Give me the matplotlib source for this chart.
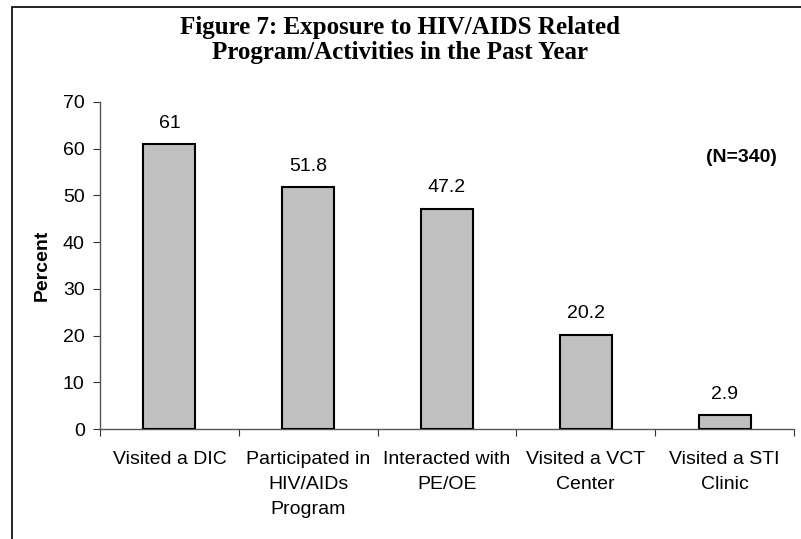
import matplotlib
matplotlib.use("Agg")
import matplotlib.pyplot as plt
from matplotlib.patches import Rectangle

categories = ["Visited a DIC", "Participated in\nHIV/AIDs\nProgram", "Interacted with\nPE/OE",
              "Visited a VCT\nCenter", "Visited a STI\nClinic"]
values = [61, 51.8, 47.2, 20.2, 2.9]
value_labels = ["61", "51.8", "47.2", "20.2", "2.9"]
yticks = [0, 10, 20, 30, 40, 50, 60, 70]

W, H = 801, 539
fig = plt.figure(figsize=(W/100, H/100), dpi=100)
fig.patches.append(Rectangle((12/W, -0.1), 1.2, (H-7)/H + 0.1, transform=fig.transFigure,
                             fill=False, edgecolor="black", linewidth=1.2))

FS = 14
ax = fig.add_axes([100/W, 1-429/H, (794-100)/W, (429-102)/H])
x = list(range(len(values)))
ax.bar(x, values, width=0.375, color="#C0C0C0", edgecolor="black", linewidth=1.5, zorder=3)
ax.set_xlim(-0.5, len(values)-0.5)
ax.set_ylim(0, 70)
ax.set_yticks(yticks)
ax.set_yticklabels([str(t) for t in yticks], fontfamily="Liberation Sans", fontsize=FS)
ax.set_xticks([i - 0.5 for i in range(len(values)+1)], minor=False)
ax.set_xticklabels([])
ax.set_xticks(x, minor=True)
ax.set_xticklabels(categories, minor=True, fontfamily="Liberation Sans", fontsize=FS,
                   linespacing=1.6, va="top")
ax.tick_params(axis="x", which="minor", length=0, pad=16)
ax.tick_params(axis="x", which="major", length=5, direction="out", color="#333333")
ax.tick_params(axis="y", length=5, direction="out", pad=6, color="#333333")
for s in ["top", "right"]:
    ax.spines[s].set_visible(False)
for s in ["left", "bottom"]:
    ax.spines[s].set_color("#555555")
    ax.spines[s].set_linewidth(1.0)

for xi, v, lab in zip(x, values, value_labels):
    ax.annotate(lab, (xi, v), xytext=(0, 9), textcoords="offset points", ha="center", va="bottom",
                fontfamily="Liberation Sans", fontsize=FS)

ax.set_ylabel("Percent", fontfamily="Liberation Sans", fontsize=FS, fontweight="bold", labelpad=9)
ax.text(0.975, 0.83, "(N=340)", transform=ax.transAxes, ha="right", va="center",
        fontfamily="Liberation Sans", fontsize=FS, fontweight="bold")

fig.text(400/W, 1-40/H, "Figure 7: Exposure to HIV/AIDS Related\nProgram/Activities in the Past Year",
         ha="center", va="center", fontfamily="Liberation Serif", fontsize=18, fontweight="bold",
         linespacing=1.15)

fig.savefig("out.png", dpi=100)
